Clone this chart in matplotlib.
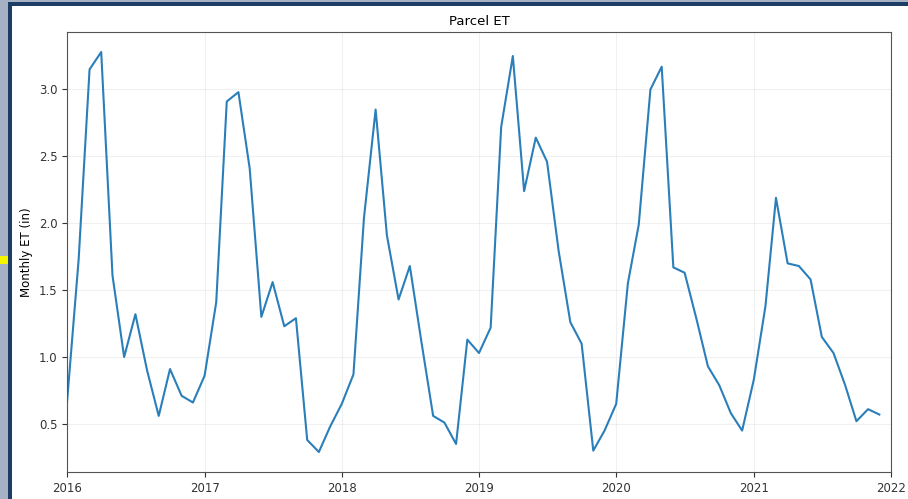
import matplotlib
matplotlib.use("Agg")
import matplotlib.pyplot as plt
import matplotlib.dates as mdates
import pandas as pd
from matplotlib.patches import Rectangle

# monthly ET for the parcel, Jan 2016 .. Dec 2021
et_2016 = [0.66, 1.73, 3.15, 3.28, 1.61, 1.00, 1.32, 0.90, 0.56, 0.91, 0.71, 0.66]
et_2017 = [0.86, 1.41, 2.91, 2.98, 2.41, 1.30, 1.56, 1.23, 1.29, 0.38, 0.29, 0.48]
et_2018 = [0.65, 0.87, 2.04, 2.85, 1.91, 1.43, 1.68, 1.11, 0.56, 0.51, 0.35, 1.13]
et_2019 = [1.03, 1.22, 2.72, 3.25, 2.24, 2.64, 2.46, 1.79, 1.26, 1.10, 0.30, 0.45]
et_2020 = [0.65, 1.55, 1.99, 3.00, 3.17, 1.67, 1.63, 1.29, 0.93, 0.79, 0.58, 0.45]
et_2021 = [0.83, 1.38, 2.19, 1.70, 1.68, 1.58, 1.15, 1.03, 0.79, 0.52, 0.61, 0.57]

et = et_2016 + et_2017 + et_2018 + et_2019 + et_2020 + et_2021
months = pd.date_range("2016-01-01", periods=len(et), freq="MS")

fig = plt.figure(figsize=(9.08, 4.99), dpi=100)

# window frame around the figure
fig.patches.append(Rectangle((0, 0), 1, 1, transform=fig.transFigure,
                             facecolor="#a7b1c4", edgecolor="none", zorder=-3))
fig.patches.append(Rectangle((8 / 908, 0), 1, 1 - 2 / 499, transform=fig.transFigure,
                             facecolor="#1d3d66", edgecolor="none", zorder=-2))
fig.patches.append(Rectangle((12 / 908, 0), 1, 1 - 6 / 499, transform=fig.transFigure,
                             facecolor="white", edgecolor="none", zorder=-1))
fig.patches.append(Rectangle((0, 235 / 499), 8 / 908, 8 / 499, transform=fig.transFigure,
                             facecolor="#f5f500", edgecolor="none", zorder=0))

ax = fig.add_axes([67 / 908, 27 / 499, 824 / 908, 440 / 499])
ax.plot(months, et, color="#2a7fba", linewidth=1.5)

ax.set_xlim(pd.Timestamp("2016-01-01"), pd.Timestamp("2022-01-01"))
ax.xaxis.set_major_locator(mdates.YearLocator())
ax.xaxis.set_major_formatter(mdates.DateFormatter("%Y"))

ax.set_title("Parcel ET", fontsize=9.5, pad=5)
ax.set_ylabel("Monthly ET (in)", fontsize=8.5)
ax.tick_params(labelsize=8.5, colors="#333333")
ax.grid(True, color="#e6e6e6", linewidth=0.8, alpha=0.6)
for s in ax.spines.values():
    s.set_color("#555555")

fig.savefig("out.png", dpi=100)
